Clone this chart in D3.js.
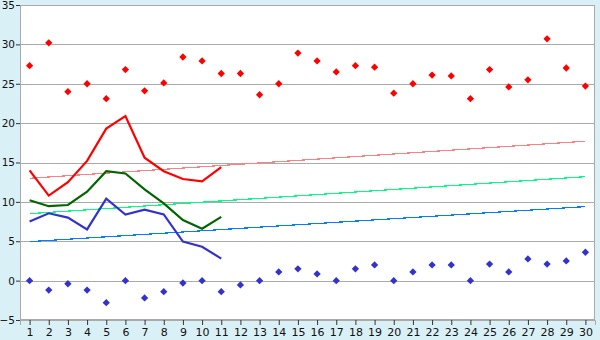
<!DOCTYPE html>
<html>
<head>
<meta charset="utf-8">
<script src="https://cdn.jsdelivr.net/npm/d3@7"></script>
<style>
  body { margin: 0; background: #daf0f7; }
  svg { display: block; }
  .tick text { font-family: "DejaVu Sans", Verdana, sans-serif; font-size: 11px; fill: #111; }
</style>
</head>
<body>
<svg width="600" height="340"></svg>
<script>
var days = d3.range(1, 31);

// daily scatter values
var maxPoints = [27.3, 30.2, 24.0, 25.0, 23.1, 26.8, 24.1, 25.1, 28.4, 27.9,
                 26.3, 26.3, 23.6, 25.0, 28.9, 27.9, 26.5, 27.3, 27.1, 23.8,
                 25.0, 26.1, 26.0, 23.1, 26.8, 24.6, 25.5, 30.7, 27.0, 24.7];
var minPoints = [0.0, -1.2, -0.4, -1.2, -2.8, 0.0, -2.2, -1.4, -0.3, 0.0,
                 -1.4, -0.55, 0.0, 1.1, 1.5, 0.85, 0.0, 1.5, 2.0, 0.0,
                 1.1, 2.0, 2.0, 0.0, 2.1, 1.1, 2.75, 2.1, 2.5, 3.6];

// lines, days 1..11
var redLine   = [14.0, 10.8, 12.5, 15.2, 19.3, 20.9, 15.6, 13.9, 12.9, 12.6, 14.4];
var greenLine = [10.2, 9.45, 9.6, 11.3, 13.9, 13.6, 11.6, 9.8, 7.7, 6.6, 8.1];
var blueLine  = [7.5, 8.55, 8.0, 6.5, 10.4, 8.4, 9.0, 8.4, 4.95, 4.3, 2.8];

// trend lines, value at day 1 and day 30
var trendDays  = [1, 30];
var redTrend   = [13.0, 17.7];
var greenTrend = [8.5, 13.2];
var blueTrend  = [4.95, 9.4];

var yTicks = d3.range(-5, 36, 5);

var svg = d3.select("svg"),
    margin = { top: 5, right: 5, bottom: 20, left: 20 },
    width = 600 - margin.left - margin.right,
    height = 340 - margin.top - margin.bottom;

var x = d3.scalePoint().domain(days).range([0, width]).padding(0.5);
var y = d3.scaleLinear().domain([-5, 35]).range([height, 0]);

var g = svg.append("g")
    .attr("transform", "translate(" + margin.left + "," + margin.top + ")");

g.append("rect")
    .attr("width", width)
    .attr("height", height)
    .attr("fill", "#fff");

// grid
g.selectAll(".grid")
  .data(yTicks)
  .enter().append("line")
    .attr("class", "grid")
    .attr("x1", 0).attr("x2", width)
    .attr("y1", function(d) { return Math.round(y(d)) + 0.5; })
    .attr("y2", function(d) { return Math.round(y(d)) + 0.5; })
    .attr("stroke", "#aaa");

// frame
g.append("rect")
    .attr("x", 0.5).attr("y", 0.5)
    .attr("width", width - 1).attr("height", height - 1)
    .attr("fill", "none")
    .attr("stroke", "#aaa");

var yAxis = g.append("g")
    .call(d3.axisLeft(y).tickValues(yTicks).tickSize(4).tickPadding(1));
var xAxis = g.append("g")
    .attr("transform", "translate(0," + height + ")")
    .call(d3.axisBottom(x).tickSize(5).tickPadding(3));
[xAxis, yAxis].forEach(function(a) {
  a.select(".domain").attr("stroke", "#aaa");
  a.selectAll(".tick line").attr("stroke", "#333");
});
yAxis.selectAll(".tick text").style("font-size", "10.5px");

var line = d3.line()
    .x(function(d, i) { return x(days[i]); })
    .y(function(d) { return y(d); });
var trendLine = d3.line()
    .x(function(d, i) { return x(trendDays[i]); })
    .y(function(d) { return y(d); });

[[redTrend, "#ff8080"], [greenTrend, "#00ff80"], [blueTrend, "#0080ff"]].forEach(function(t) {
  g.append("path")
    .datum(t[0])
    .attr("d", trendLine)
    .attr("fill", "none")
    .attr("stroke", t[1])
    .attr("stroke-width", 1.2)
    .attr("shape-rendering", "crispEdges");
});

[[redLine, "#ff0000"], [greenLine, "#006600"], [blueLine, "#3333cc"]].forEach(function(l) {
  g.append("path")
    .datum(l[0])
    .attr("d", line)
    .attr("fill", "none")
    .attr("stroke", l[1])
    .attr("stroke-width", 2.2);
});

var marker = d3.symbol().type(d3.symbolDiamond2).size(34);
[[maxPoints, "#ff0000"], [minPoints, "#3333cc"]].forEach(function(p) {
  g.selectAll(null)
    .data(p[0])
    .enter().append("path")
      .attr("d", marker)
      .attr("transform", function(d, i) { return "translate(" + x(days[i]) + "," + y(d) + ")"; })
      .attr("fill", p[1]);
});
</script>
</body>
</html>
